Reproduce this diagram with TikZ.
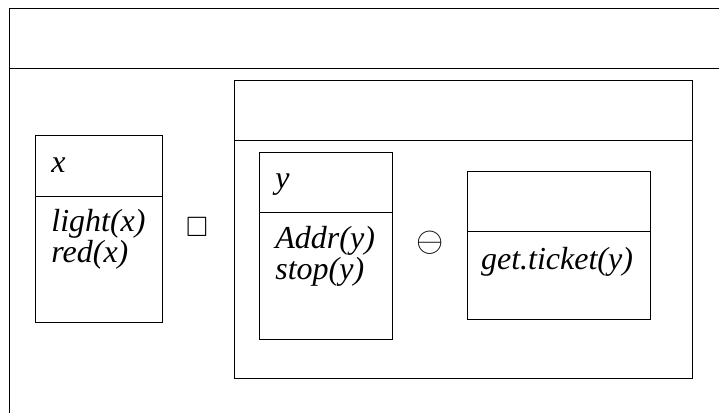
\documentclass[tikz,border=0pt]{standalone}
\usepackage{amssymb}
\usepackage{fontspec}
\setmainfont{Liberation Serif}
\usetikzlibrary{positioning}

\begin{document}
\begin{tikzpicture}[x=1pt,y=-1pt,line width=0.8pt,
	drs/.style={draw,anchor=north west,inner sep=0pt},
	cond/.style={anchor=base west,inner sep=0pt,align=left,font=\fontsize{32}{28}\selectfont\itshape},
	op/.style={transform shape,inner sep=0pt}]
	\useasboundingbox (0,0) rectangle (719,413);
	\clip (0,0) rectangle (719,413);
	% outer box, cut off at the edge of the page
	\coordinate (topL) at (9,8);
	\coordinate (topR) at (719,8);
	\coordinate (botL) at (9,413);
	\draw (topR) -- (topL) -- (botL);
	\draw (9,68) -- (719,68);
	% left box
	\node[drs,minimum width=127pt,minimum height=187pt] (xbox) at (35,135) {};
	\draw ([yshift=-61pt]xbox.north west) -- ([yshift=-61pt]xbox.north east);
	\node[cond] (xref) at (51,172) {x};
	\node[cond] (xconds) at (51,262) {light(x)\\red(x)};
	\node[op,scale=2.8] (nec) at (197,227) {$\square$};
	% right box
	\node[drs,minimum width=458pt,minimum height=298pt] (rbox) at (234,80) {};
	\draw ([yshift=-60pt]rbox.north west) -- ([yshift=-60pt]rbox.north east);
	\node[drs,minimum width=133pt,minimum height=187pt] (ybox) at (259,152) {};
	\draw ([yshift=-60pt]ybox.north west) -- ([yshift=-60pt]ybox.north east);
	\node[cond] (yref) at (275,188) {y};
	\node[cond] (yconds) at (275,279) {Addr(y)\\stop(y)};
	\node[op,scale=3.5] (minus) at (430,243) {$\ominus$};
	\node[drs,minimum width=183pt,minimum height=148pt] (tbox) at (467,171) {};
	\draw ([yshift=-60pt]tbox.north west) -- ([yshift=-60pt]tbox.north east);
	\node[cond,anchor=base] (ticket) at (557,269) {get.ticket(y)};
\end{tikzpicture}
\end{document}
